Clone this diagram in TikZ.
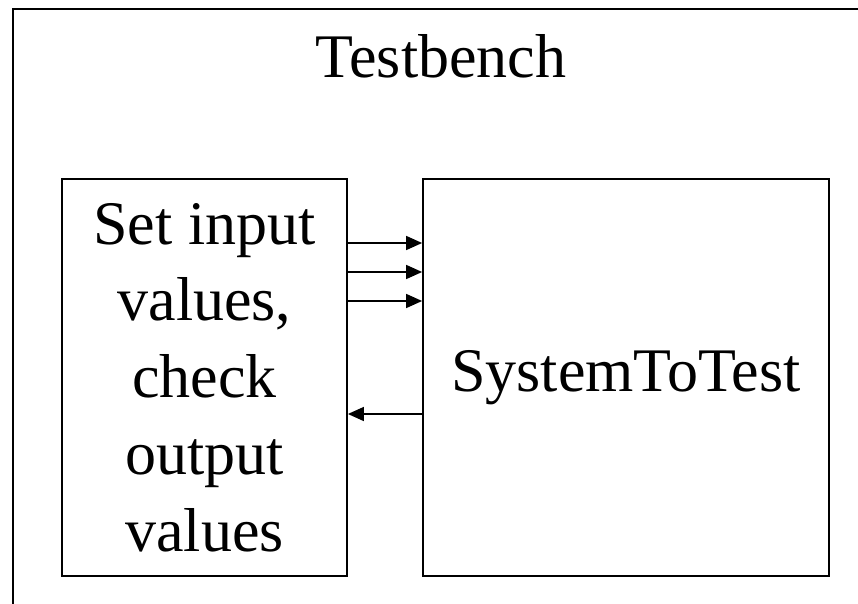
\documentclass[tikz,border=0pt]{standalone}
\usepackage{fontspec}
\setmainfont{Liberation Serif}
\usetikzlibrary{arrows.meta}
\begin{document}
\begin{tikzpicture}[x=1pt,y=1pt,
  blockbox/.style={draw,line width=1.8pt,inner sep=0pt,align=center,
    font=\fontsize{62}{76.75}\selectfont},
  sig/.style={line width=1.5pt,-{Triangle[length=16pt,width=14pt]}}]
\useasboundingbox (0,0) rectangle (858,603);
\begin{scope}
\clip (0,0) rectangle (858,603);
\draw[line width=2pt] (13,-20) -- (13,594) -- (880,594);
\end{scope}
\node[font=\fontsize{62}{76.75}\selectfont,anchor=base] (title) at (441,525) {Testbench};
\node[blockbox,minimum width=285pt,minimum height=397pt] (L) at (204.5,225.5)
  {Set input\\values,\\check\\output\\values};
\node[blockbox,minimum width=406pt,minimum height=397pt] (R) at (626,225.5)
  {SystemToTest};
\draw[sig] ([yshift=134.5pt]L.east) -- ([yshift=134.5pt]R.west);
\draw[sig] ([yshift=105.5pt]L.east) -- ([yshift=105.5pt]R.west);
\draw[sig] ([yshift=76.5pt]L.east) -- ([yshift=76.5pt]R.west);
\draw[sig] ([yshift=-36.5pt]R.west) -- ([yshift=-36.5pt]L.east);
\end{tikzpicture}
\end{document}
